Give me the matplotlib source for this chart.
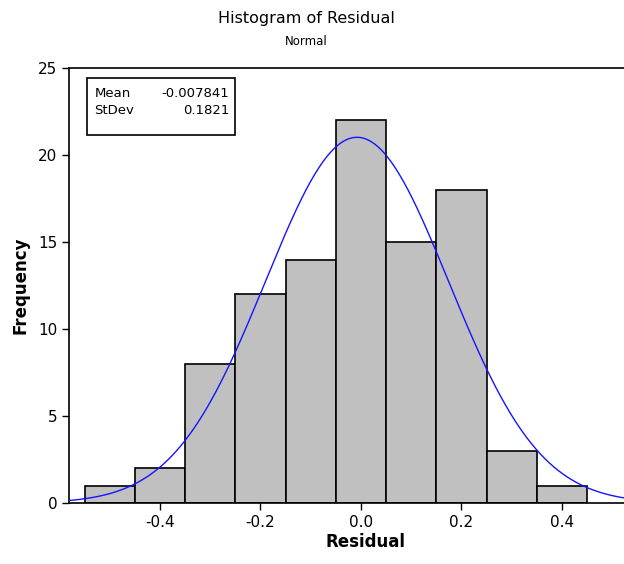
import numpy as np
import matplotlib
matplotlib.use("Agg")
import matplotlib.pyplot as plt

# histogram data
bin_left = [-0.55, -0.45, -0.35, -0.25, -0.15, -0.05, 0.05, 0.15, 0.25, 0.35]
counts = [1, 2, 8, 12, 14, 22, 15, 18, 3, 1]
bin_width = 0.1
mean = -0.007841
stdev = 0.1821
x_ticks = [-0.4, -0.2, 0.0, 0.2, 0.4]
y_ticks = [0, 5, 10, 15, 20, 25]

plt.rcParams["font.family"] = "DejaVu Sans"

fig = plt.figure(figsize=(6.24, 5.64), dpi=100)
ax = fig.add_axes([0.1106, 0.108, 0.951, 0.771])

ax.bar(bin_left, counts, width=bin_width, align="edge",
       color="#c0c0c0", edgecolor="black", linewidth=1.2, zorder=2)

n = sum(counts)
xs = np.linspace(-0.581, 0.60, 400)
ys = n * bin_width / (stdev * np.sqrt(2 * np.pi)) * np.exp(-0.5 * ((xs - mean) / stdev) ** 2)
ax.plot(xs, ys, color="#1414ff", linewidth=1.0, zorder=3)

ax.set_xlim(-0.581, 0.60)
ax.set_ylim(0, 25)
ax.set_xticks(x_ticks)
ax.set_xticklabels(["%.1f" % v for v in x_ticks])
ax.set_yticks(y_ticks)
ax.tick_params(direction="out", length=5, width=1, labelsize=11, colors="black")
for s in ax.spines.values():
    s.set_linewidth(1.2)

ax.set_xlabel("Residual", fontsize=12, fontweight="bold", labelpad=2)
ax.set_ylabel("Frequency", fontsize=12, fontweight="bold", labelpad=6)

fig.text(0.4915, 0.968, "Histogram of Residual", ha="center", va="center", fontsize=11.5)
fig.text(0.4915, 0.926, "Normal", ha="center", va="center", fontsize=8.5)

# stats box
ax.text(0.043, 0.957, "Mean\nStDev", transform=ax.transAxes, ha="left", va="top",
        fontsize=9.5, linespacing=1.45, zorder=5)
ax.text(0.270, 0.957, "%.6f\n%.4f" % (mean, stdev), transform=ax.transAxes, ha="right", va="top",
        fontsize=9.5, linespacing=1.45, zorder=5)
ax.add_patch(plt.Rectangle((0.030, 0.846), 0.250, 0.131, transform=ax.transAxes,
                           fill=False, edgecolor="black", linewidth=1.2, zorder=4))

fig.savefig("out.png", dpi=100)
